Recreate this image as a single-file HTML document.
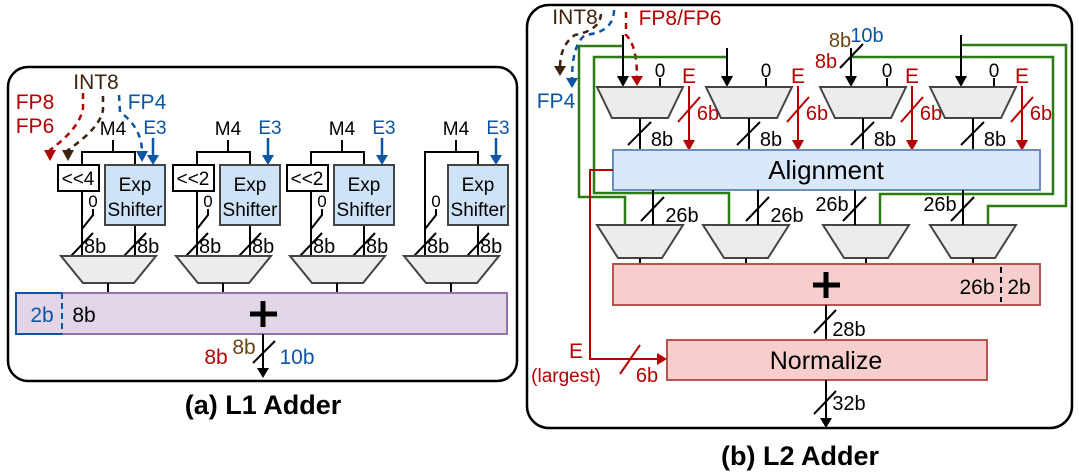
<!DOCTYPE html>
<html><head><meta charset="utf-8"><style>
html,body{margin:0;padding:0;background:#fff;}
svg{display:block;font-family:"Liberation Sans",Arial,sans-serif;}
</style></head><body>
<svg width="1079" height="476" viewBox="0 0 1079 476" xmlns="http://www.w3.org/2000/svg">
<g id="A">
<rect x="8" y="67" width="509" height="314" rx="20" fill="#fff" stroke="#000" stroke-width="2.5"/>
<text x="263" y="414" font-size="27" font-weight="bold" text-anchor="middle">(a) L1 Adder</text>
<text x="96" y="89" font-size="21" fill="#3d2310" text-anchor="middle">INT8</text>
<text x="35" y="109" font-size="21" fill="#b40000" text-anchor="middle">FP8</text>
<text x="35" y="133" font-size="21" fill="#b40000" text-anchor="middle">FP6</text>
<text x="147" y="109" font-size="21" fill="#0b55a3" text-anchor="middle">FP4</text>
<path d="M83,93 L83,108 Q80,128 50,150 L50,155" fill="none" stroke="#b40000" stroke-width="2.5" stroke-dasharray="6,5"/>
<path d="M44,150 L50,161 L56,150 Z" fill="#b40000"/>
<path d="M103,96 L103,110 Q100,128 68,150 L68,155" fill="none" stroke="#3d2310" stroke-width="2.5" stroke-dasharray="6,5"/>
<path d="M62,150 L68,161 L74,150 Z" fill="#3d2310"/>
<path d="M119,95 L120,112 Q142,128 142,152" fill="none" stroke="#0b55a3" stroke-width="2.5" stroke-dasharray="6,5"/>
<path d="M136,151 L142,162 L148,151 Z" fill="#0b55a3"/>
<g id="u1">
<text x="113" y="135" font-size="19" text-anchor="middle">M4</text>
<text x="155" y="134" font-size="19" fill="#0b55a3" text-anchor="middle">E3</text>
<path d="M153,138 L153,157" stroke="#0b55a3" stroke-width="2.5"/>
<path d="M147,155 L153,165 L159,155 Z" fill="#0b55a3"/>
<path d="M113,140 L113,152 M82,165 L82,152 L135,152 L135,165" fill="none" stroke="#000" stroke-width="2"/>
<path d="M82,191 L82,256 M135,225 L135,256" stroke="#000" stroke-width="2"/>
<text x="93" y="207" font-size="17" text-anchor="middle">0</text>
<path d="M93,209 L93,215 L82,229" fill="none" stroke="#000" stroke-width="2"/>
<path d="M71,256 L93,233 M124,256 L146,233" stroke="#000" stroke-width="2"/>
<text x="84" y="253" font-size="20">8b</text>
<text x="137" y="253" font-size="20">8b</text>
<path d="M61,256 L156,256 L134,283 L83,283 Z" fill="#ececec" stroke="#444" stroke-width="2"/>
<path d="M108,283 L108,293" stroke="#000" stroke-width="2"/>
<rect x="105" y="165" width="60" height="60" fill="#cfe3f8" stroke="#444" stroke-width="2"/>
<text x="135" y="191" font-size="19" text-anchor="middle">Exp</text>
<text x="135" y="216" font-size="19" text-anchor="middle">Shifter</text>
</g>
<rect x="58" y="165" width="41" height="26" fill="#fff" stroke="#000" stroke-width="2"/>
<text x="78" y="185" font-size="19" text-anchor="middle">&lt;&lt;4</text>
<use href="#u1" x="115"/>
<rect x="173" y="165" width="41" height="26" fill="#fff" stroke="#000" stroke-width="2"/>
<text x="193" y="185" font-size="19" text-anchor="middle">&lt;&lt;2</text>
<use href="#u1" x="229"/>
<rect x="287" y="165" width="41" height="26" fill="#fff" stroke="#000" stroke-width="2"/>
<text x="307" y="185" font-size="19" text-anchor="middle">&lt;&lt;2</text>
<use href="#u1" x="343"/>
<path d="M425,152 L425,191" stroke="#000" stroke-width="2"/>
<rect x="16" y="293" width="491" height="41" fill="#e1d5e7" stroke="#9673a6" stroke-width="2"/>
<path d="M62,293 L16,293 L16,334 L62,334" fill="none" stroke="#0b55a3" stroke-width="2"/>
<path d="M62,293 L62,334" stroke="#0b55a3" stroke-width="2" stroke-dasharray="6,4"/>
<text x="42" y="322" font-size="21" fill="#0b55a3" text-anchor="middle">2b</text>
<text x="84" y="322" font-size="21" text-anchor="middle">8b</text>
<path d="M263,301 L263,327 M250,314 L277,314" stroke="#000" stroke-width="5"/>
<path d="M263,334 L263,370" stroke="#000" stroke-width="2"/>
<path d="M257,368 L263,378 L269,368 Z" fill="#000"/>
<path d="M253,363 L275,341" stroke="#000" stroke-width="2"/>
<text x="216" y="364" font-size="21" fill="#b40000" text-anchor="middle">8b</text>
<text x="244" y="354" font-size="21" fill="#6b4414" text-anchor="middle">8b</text>
<text x="297" y="364" font-size="21" fill="#0b55a3" text-anchor="middle">10b</text>
</g>

<g id="B">
<rect x="527" y="5" width="545" height="423" rx="22" fill="#fff" stroke="#000" stroke-width="2.5"/>
<text x="800" y="465" font-size="27" font-weight="bold" text-anchor="middle">(b) L2 Adder</text>
<text x="575" y="24" font-size="21" fill="#3d2310" text-anchor="middle">INT8</text>
<text x="680" y="25" font-size="21" fill="#b40000" text-anchor="middle">FP8/FP6</text>
<text x="556" y="108" font-size="21" fill="#0b55a3" text-anchor="middle">FP4</text>
<path d="M601,14 Q600,30 575,35 Q560,45 560,68" fill="none" stroke="#3d2310" stroke-width="2.5" stroke-dasharray="6,5"/>
<path d="M554,66 L560,76 L566,66 Z" fill="#3d2310"/>
<path d="M614,10 Q614,32 585,35 Q572,45 572,80" fill="none" stroke="#0b55a3" stroke-width="2.5" stroke-dasharray="6,5"/>
<path d="M566,78 L572,88 L578,78 Z" fill="#0b55a3"/>
<path d="M626,12 L626,35 Q637,45 637,78" fill="none" stroke="#b40000" stroke-width="2.5" stroke-dasharray="6,5"/>
<path d="M631,76 L637,86 L643,76 Z" fill="#b40000"/>
<g fill="none" stroke="#2b7a14" stroke-width="2.5">
<path d="M623,46 L579,46 L579,197 L625,197 L625,225"/>
<path d="M727,57 L594,57 L594,193 L729,193 L729,225"/>
<path d="M851,57 L1053,57 L1053,194 L880,194 L880,225"/>
<path d="M961,45 L1066,45 L1066,206 L988,206 L988,225"/>
</g>
<g stroke="#000" stroke-width="2">
<path d="M623,35 L623,80 M727,48 L727,80 M851,48 L851,80 M961,35 L961,80"/>
<path d="M840,68 L863,44"/>
<path d="M660,78 L660,87 M766,78 L766,87 M887,78 L887,87 M994,78 L994,87"/>
</g>
<g fill="#000">
<path d="M617,76 L623,87 L629,76 Z"/><path d="M721,76 L727,87 L733,76 Z"/><path d="M845,76 L851,87 L857,76 Z"/><path d="M955,76 L961,87 L967,76 Z"/>
</g>
<text x="826" y="68" font-size="20" fill="#b40000" text-anchor="middle">8b</text>
<text x="840" y="47" font-size="20" fill="#6b4414" text-anchor="middle">8b</text>
<text x="867" y="42" font-size="20" fill="#0b55a3" text-anchor="middle">10b</text>
<g font-size="19" text-anchor="middle">
<text x="660" y="77">0</text><text x="766" y="77">0</text><text x="887" y="77">0</text><text x="994" y="77">0</text>
</g>
<g id="col">
<text x="689" y="83" font-size="21" fill="#b40000" text-anchor="middle">E</text>
<path d="M689,86 L689,142 M678,122 L700,97" stroke="#b40000" stroke-width="2"/>
<path d="M683,140 L689,151 L695,140 Z" fill="#b40000"/>
<text x="708" y="120" font-size="20" fill="#b40000" text-anchor="middle">6b</text>
<path d="M597,87 L683,87 L668,118 L612,118 Z" fill="#ececec" stroke="#444" stroke-width="2"/>
<path d="M640,118 L640,150 M628,145 L651,122" stroke="#000" stroke-width="2"/>
<text x="662" y="146" font-size="20" text-anchor="middle">8b</text>
</g>
<use href="#col" x="109"/>
<use href="#col" x="223"/>
<use href="#col" x="333"/>
<rect x="613" y="150" width="427" height="40" fill="#dae8fc" stroke="#6c8ebf" stroke-width="2"/>
<text x="826" y="179" font-size="26" text-anchor="middle">Alignment</text>
<g id="bm">
<path d="M597,225 L683,225 L662,258 L618,258 Z" fill="#ececec" stroke="#444" stroke-width="2"/>
<path d="M640,258 L640,264" stroke="#000" stroke-width="2"/>
</g>
<use href="#bm" x="106"/>
<use href="#bm" x="226"/>
<use href="#bm" x="333"/>
<g stroke="#000" stroke-width="2">
<path d="M653,190 L653,225 M641,221 L664,197"/>
<path d="M758,190 L758,225 M746,221 L769,197"/>
<path d="M855,190 L855,225 M843,221 L866,197"/>
<path d="M963,190 L963,225 M951,221 L974,197"/>
</g>
<g font-size="20" text-anchor="middle">
<text x="682" y="222">26b</text><text x="787" y="222">26b</text>
<text x="832" y="211">26b</text><text x="940" y="211">26b</text>
</g>
<rect x="613" y="264" width="427" height="41" fill="#f8cecc" stroke="#b85450" stroke-width="2"/>
<path d="M826,272 L826,298 M813,285 L840,285" stroke="#000" stroke-width="5"/>
<text x="977" y="294" font-size="21" text-anchor="middle">26b</text>
<path d="M1001,267 L1001,302" stroke="#000" stroke-width="2" stroke-dasharray="6,4"/>
<text x="1019" y="294" font-size="21" text-anchor="middle">2b</text>
<path d="M826,305 L826,340 M814,333 L836,310" stroke="#000" stroke-width="2"/>
<text x="849" y="336" font-size="20" text-anchor="middle">28b</text>
<rect x="667" y="340" width="320" height="40" fill="#f8cecc" stroke="#b85450" stroke-width="2"/>
<text x="826" y="369" font-size="25" text-anchor="middle">Normalize</text>
<path d="M826,380 L826,420 M814,414 L836,391" stroke="#000" stroke-width="2"/>
<path d="M820,418 L826,428 L832,418 Z" fill="#000"/>
<text x="849" y="410" font-size="20" text-anchor="middle">32b</text>
<path d="M613,170 L590,170 L590,359 L660,359" fill="none" stroke="#b40000" stroke-width="2"/>
<path d="M657,353 L667,359 L657,365 Z" fill="#b40000"/>
<path d="M620,374 L640,345" stroke="#b40000" stroke-width="2"/>
<text x="576" y="358" font-size="21" fill="#b40000" text-anchor="middle">E</text>
<text x="566" y="382" font-size="19" fill="#b40000" text-anchor="middle">(largest)</text>
<text x="647" y="382" font-size="20" fill="#b40000" text-anchor="middle">6b</text>
</g>
</svg>
</body></html>
